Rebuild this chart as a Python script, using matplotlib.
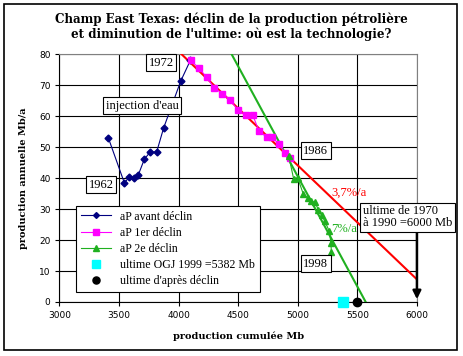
import matplotlib.pyplot as plt
from matplotlib.patches import Rectangle

# aP avant declin (1962-1972)
q_avant = [3410, 3545, 3587, 3625, 3662, 3712, 3760, 3815, 3874, 4017, 4098]
p_avant = [53.0, 38.4, 40.5, 40.2, 41.1, 46.1, 48.4, 48.4, 56.2, 71.3, 78.0]

# aP 1er declin (1972-1986)
q_decl1 = [4100, 4170, 4234, 4298, 4368, 4435, 4500, 4564, 4620, 4674, 4738, 4785, 4842, 4892, 4934]
p_decl1 = [78.0, 75.6, 72.6, 69.2, 67.3, 65.1, 61.9, 60.3, 60.5, 55.3, 53.2, 53.2, 51.0, 48.1, 46.5]

# aP 2e declin (1986-1998)
q_decl2 = [4925, 4965, 4998, 5045, 5085, 5115, 5145, 5172, 5200, 5228, 5265, 5278, 5282]
p_decl2 = [47.0, 39.8, 40.2, 35.0, 33.6, 32.5, 32.2, 29.8, 28.0, 26.0, 22.8, 19.0, 16.3]

# droites de declin
red_q = [4025, 6000]
red_p = [80, 7.3]
green_q = [4445, 5570]
green_p = [80, 0]

ultime_ogj = 5382
ultime_decl = 5500
ultime_1970 = 6000

fig = plt.figure(figsize=(4.63, 3.56), dpi=100)
ax = fig.add_axes([0.1285, 0.1517, 0.772, 0.6958])

ax.set_xlim(3000, 6000)
ax.set_ylim(0, 80)
ax.set_xticks(range(3000, 6001, 500))
ax.set_yticks(range(0, 81, 10))
ax.grid(True, color='black', linewidth=0.8)
ax.set_axisbelow(True)
ax.tick_params(labelsize=6.5, length=3, width=0.8, colors='black')
for s in ['top', 'right']:
    ax.spines[s].set_color('gray')
for s in ['left', 'bottom']:
    ax.spines[s].set_color('black')

ax.plot(red_q, red_p, color='#FF0000', lw=1.5, zorder=3)
ax.plot(green_q, green_p, color='#20B020', lw=1.5, zorder=3)

ax.plot(q_avant, p_avant, color='#000080', lw=0.8, marker='D', ms=3.5,
        label='aP avant déclin', zorder=4)
ax.plot(q_decl1, p_decl1, color='#FF00FF', lw=0.8, marker='s', ms=4.5,
        label='aP 1er déclin', zorder=4)
ax.plot(q_decl2, p_decl2, color='#20B020', lw=0.8, marker='^', ms=5,
        label='aP 2e déclin', zorder=4)
ax.plot([ultime_ogj], [0], ls='none', marker='s', ms=7, color='#00FFFF',
        label='ultime OGJ 1999 =5382 Mb', clip_on=False, zorder=5)
ax.plot([ultime_decl], [0], ls='none', marker='o', ms=6, color='black',
        label="ultime d'après déclin", clip_on=False, zorder=5)

ax.annotate('', xy=(ultime_1970, 0), xytext=(ultime_1970, 28),
            arrowprops=dict(arrowstyle='-|>', color='black', lw=1.8,
                            mutation_scale=12), zorder=5)

box = dict(boxstyle='square,pad=0.2', fc='white', ec='black', lw=0.8)
tf = 'Liberation Serif'
fs = 9
ax.text(3852, 77.3, '1972', ha='center', va='center', fontsize=fs, family=tf, bbox=box, zorder=6)
ax.text(3692, 63.3, "injection d'eau", ha='center', va='center', fontsize=fs, family=tf, bbox=box, zorder=6)
ax.text(3348, 37.8, '1962', ha='center', va='center', fontsize=fs, family=tf, bbox=box, zorder=6)
ax.text(5150, 48.9, '1986', ha='center', va='center', fontsize=fs, family=tf, bbox=box, zorder=6)
ax.text(5150, 12.4, '1998', ha='center', va='center', fontsize=fs, family=tf, bbox=box, zorder=6)
ax.text(5283, 35.4, '3,7%/a', ha='left', va='center', fontsize=fs, family=tf, color='#FF0000', zorder=6)
ax.text(5283, 23.5, '7%/a', ha='left', va='center', fontsize=fs, family=tf, color='#20B020', zorder=3.5)
ax.text(5545, 27.3, 'ultime de 1970\nà 1990 =6000 Mb', ha='left', va='center', fontsize=fs,
        family=tf, linespacing=1.0, bbox=box, zorder=6)

leg = ax.legend(loc='lower left', bbox_to_anchor=(0.046, 0.04, 0.515, 0.368), mode='expand',
                prop={'family': tf, 'size': 8.6}, fancybox=False, edgecolor='black',
                framealpha=1, borderaxespad=0, handlelength=2.5, labelspacing=0.35,
                borderpad=0.4, markerscale=0.85)
leg.get_frame().set_linewidth(0.8)
leg.set_zorder(7)

ax.set_xlabel('production cumulée Mb', fontsize=7, fontweight='bold', family='DejaVu Serif', labelpad=8)
ax.set_ylabel('production annuelle Mb/a', fontsize=7, fontweight='bold', family='DejaVu Serif', labelpad=8)

fig.text(0.5, 0.885, "Champ East Texas: déclin de la production pétrolière\n"
         "et diminution de l'ultime: où est la technologie?",
         ha='center', va='bottom', fontsize=8.6, fontweight='bold', family='DejaVu Serif',
         linespacing=1.15)

fig.patches.append(Rectangle((4 / 463, 6 / 356), 453 / 463, 346 / 356, transform=fig.transFigure,
                             fill=False, ec='black', lw=1.2))

fig.savefig('out.png', dpi=100)
